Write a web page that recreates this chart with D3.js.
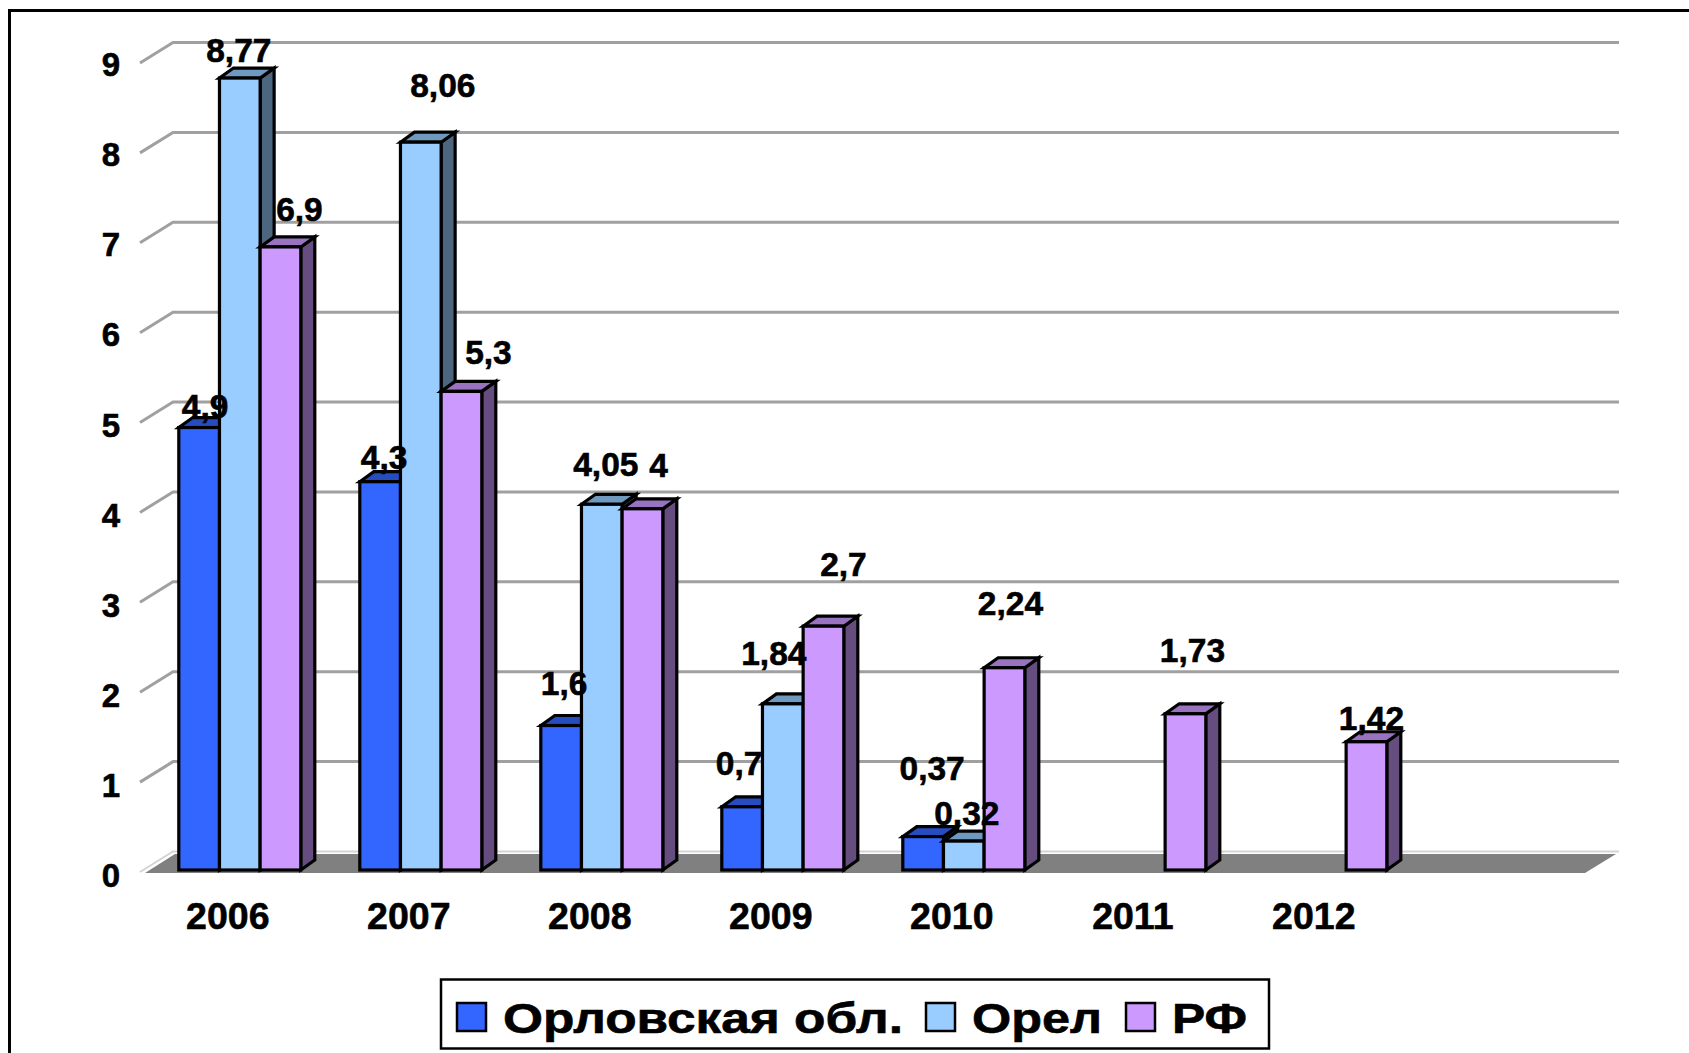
<!DOCTYPE html>
<html><head><meta charset="utf-8">
<script src="https://cdn.jsdelivr.net/npm/d3@7/dist/d3.min.js"></script>
<style>html,body{margin:0;padding:0;background:#fff;overflow:hidden}svg{display:block}text{font-family:"Liberation Sans",Arial,sans-serif;font-weight:700;fill:#000;stroke:#000;stroke-width:.6px}</style>
</head><body><svg id="c" width="1689" height="1053"></svg>
<script>
const categories = ["2006","2007","2008","2009","2010","2011","2012"];
const seriesNames = ["Орловская обл.","Орел","РФ"];
const oblast = [4.9,4.3,1.6,0.7,0.37,null,null];
const orel = [8.77,8.06,4.05,1.84,0.32,null,null];
const rf = [6.9,5.3,4,2.7,2.24,1.73,1.42];
const yTicks = [0,1,2,3,4,5,6,7,8,9];
const oblastLabelOffsets = [[5,-23],[3,-26],[2,-44],[-4,-45],[8,-70],null,null];
const orelLabelOffsets = [[-2,-30],[21,-59],[3,-42],[-10,-52],[2,-30],null,null];
const rfLabelOffsets = [[18,-39],[26,-41],[15,-45],[19,-64],[5,-66],[6,-65],[4,-25]];
const fronts = ["#3366FF","#99CCFF","#CC99FF"];
const tops = ["#264CBF","#7099BF","#9973BF"];
const sides = ["#1A3380","#4D6680","#664D80"];

const svg = d3.select("#c");
const groupW = 122, step = 181;
const y = d3.scaleLinear().domain([0,9]).range([870,57.3]);
const yWall = d3.scaleLinear().domain([0,9]).range([851.5,42.5]);
const x = d3.scaleBand().domain(categories)
  .range([178.8-(step-groupW)/2, 178.8-(step-groupW)/2+step*categories.length])
  .paddingInner((step-groupW)/step).paddingOuter((step-groupW)/step/2);
const xs = d3.scaleBand().domain([0,1,2]).range([0,x.bandwidth()]);
const dX=14, dY=-10;

svg.append("path").attr("d","M9.5 1053V10.5H1689").attr("fill","none").attr("stroke","#000").attr("stroke-width",3);

// walls
const grid = svg.append("g").attr("fill","none");
yTicks.forEach(t=>{
  const yb = yWall(t), zero = t===0;
  grid.append("path").attr("d",`M140 ${yb+20.5}L173 ${yb}H1619`)
    .attr("stroke",zero?"#D4D4D4":"#A0A0A0").attr("stroke-width",zero?2:3);
});
// floor
svg.append("path").attr("d",`M145 ${y(0)+3}L175 ${y(0)-16}H1616L1585 ${y(0)+3}Z`).attr("fill","#808080");

// bars
const bars = svg.append("g").attr("stroke","#000").attr("stroke-width",3.2).attr("stroke-linejoin","miter");
[oblast,orel,rf].forEach((vals,s)=>{
  vals.forEach((v,i)=>{
    if(v==null) return;
    const x0=x(categories[i])+xs(s), x1=x0+xs.bandwidth(), yt=y(v), yb=y(0);
    bars.append("path").attr("d",`M${x1} ${yb}L${x1+dX} ${yb+dY}V${yt+dY}L${x1} ${yt}Z`).attr("fill",sides[s]);
    bars.append("path").attr("d",`M${x0} ${yt}L${x0+dX} ${yt+dY}H${x1+dX}L${x1} ${yt}Z`).attr("fill",tops[s]);
    bars.append("rect").attr("x",x0).attr("y",yt).attr("width",x1-x0).attr("height",yb-yt).attr("fill",fronts[s]);
  });
});

// axes
const ya = svg.append("g").attr("transform","translate(120,6)")
  .call(d3.axisLeft(yWall.copy().range([870,59])).tickValues(yTicks).tickSize(0).tickPadding(0));
ya.select(".domain").remove();
ya.selectAll("text").style("font-size","33px");
const xa = svg.append("g").attr("transform","translate(-12,902)")
  .call(d3.axisBottom(x).tickSize(0).tickPadding(0));
xa.select(".domain").remove();
xa.selectAll("text").style("font-size","37.5px");
ya.attr("font-family",null); xa.attr("font-family",null);

// value labels
const fmt = v => String(v).replace(".",",");
[[oblast,oblastLabelOffsets],[orel,orelLabelOffsets],[rf,rfLabelOffsets]].forEach(([vals,offs],s)=>{
  vals.forEach((v,i)=>{
    if(v==null) return;
    const cx=x(categories[i])+xs(s)+xs.bandwidth()/2;
    svg.append("text").attr("x",cx+offs[i][0]+1).attr("y",y(v)+offs[i][1]+13.5)
      .attr("text-anchor","middle").style("font-size","33.5px").text(fmt(v));
  });
});

// legend
const lg = svg.append("g");
lg.append("rect").attr("x",441).attr("y",979.5).attr("width",828).attr("height",69).attr("fill","#fff").attr("stroke","#000").attr("stroke-width",2.5);
const legendSwatchX=[457,926,1126], legendTextX=[503,972,1172], legendTextW=[400,130,75];
seriesNames.forEach((n,s)=>{
  lg.append("rect").attr("x",legendSwatchX[s]).attr("y",1003).attr("width",29).attr("height",28)
    .attr("fill",fronts[s]).attr("stroke","#000").attr("stroke-width",2.5);
  lg.append("text").attr("x",legendTextX[s]).attr("y",1033).style("font-size","43px")
    .attr("textLength",legendTextW[s]).attr("lengthAdjust","spacingAndGlyphs").text(n);
});
</script></body></html>
